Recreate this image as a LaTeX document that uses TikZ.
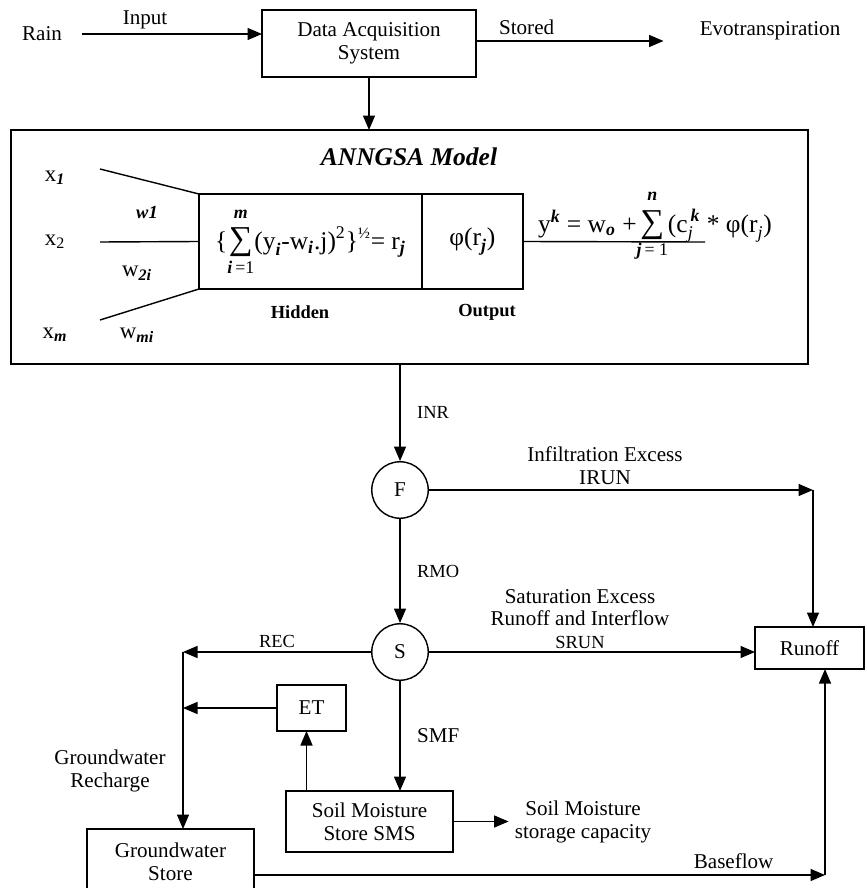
\documentclass[tikz,border=0pt]{standalone}
\usepackage{amsmath,amssymb}
\usepackage{fontspec}
\setmainfont{Liberation Serif}
\usetikzlibrary{arrows.meta, positioning, calc}

\newcommand{\bisub}[1]{\text{\bfseries\itshape #1}}
\newcommand{\tsum}{\mathop{\text{\fontsize{19}{19}\selectfont ∑}}\limits}
\newcommand{\uplim}[1]{\raisebox{2.5pt}{$\scriptstyle #1$}}

\begin{document}
\begin{tikzpicture}[
    x=0.02cm, y=-0.02cm,
    font=\fontsize{12}{13}\selectfont,
    box/.style={draw, line width=0.8pt, align=center, inner sep=0pt, outer sep=0pt},
    circ/.style={draw, circle, line width=0.8pt, minimum size=1.13cm, inner sep=0pt},
    arrow/.style={-{Triangle[length=2.9mm, width=2.4mm]}, line width=0.8pt},
    wire/.style={line width=0.8pt},
    small/.style={font=\fontsize{10.5}{12}\selectfont},
    tag/.style={font=\fontsize{10.5}{12}\selectfont\bfseries},
    inp/.style={font=\fontsize{13}{14}\selectfont},
    formula/.style={font=\fontsize{14.5}{16}\selectfont}
]
\clip (0,0) rectangle (866,888);

% data acquisition
\node[box, minimum width=4.28cm, minimum height=1.34cm] (das) at (369,43.5) {Data Acquisition\\System};
\node (rain) at (42,34) {Rain};
\node (evo) at (770,31) {Evotranspiration};
\draw[arrow] ([xshift=0.28cm]rain.east) -- (rain -| das.west) node[pos=0.35, above=-1pt] {Input};
\draw[arrow] ([yshift=0.05cm]das.east) -- ([yshift=0.05cm, xshift=-0.6cm]das.east -| evo.west) node[pos=0.27, above=0pt] {Stored};

% ANNGSA model
\node[box, minimum width=15.94cm, minimum height=4.68cm] (model) at (409.5,247) {};
\draw[arrow] (das.south) -- (das.south |- model.north);
\node[font=\fontsize{14.5}{16}\selectfont\bfseries\itshape] (title) at (409,157) {ANNGSA Model};

\node[box, formula, minimum width=4.46cm, minimum height=1.9cm] (hidden) at (310.5,241.5)
    {$\text{\{}\!\tsum_{\bisub{i}\,\text{=1}}^{\uplim{\bisub{m}}}\!\text{(y}_{\bisub{i}}\text{-w}_{\bisub{i}}\text{.j)}^{\text{2}}\text{\}}^{\text{\fontsize{9}{9}\selectfont ½}}\text{= r}_{\bisub{j}}$};
\node[box, formula, minimum width=2.02cm, minimum height=1.9cm, right=0pt of hidden] (output)
    {$\text{φ(r}_{\bisub{j}}\text{)}$};
\node[tag] (hidlbl) at (300,312) {Hidden};
\node[tag] (outlbl) at (487,312) {Output};

\node[inp] (x1) at (55,178) {x\textsubscript{\bfseries\itshape 1}};
\node[inp] (x2) at (55,242) {x\textsubscript{2}};
\node[inp] (xm) at (55,335) {x\textsubscript{\bfseries\itshape m}};
\node[font=\fontsize{10.5}{12}\selectfont\bfseries\itshape] (w1) at (147,213) {w1};
\node[inp] (w2) at (137,273) {w\textsubscript{\bfseries\itshape 2i}};
\node[inp] (wm) at (137,335) {w\textsubscript{\bfseries\itshape mi}};
\coordinate (in1) at (100,169);
\coordinate (in2) at (100,242);
\coordinate (in3) at (100,320);
\draw[wire] (in1) -- (hidden.north west);
\draw[wire] (in2) -- (hidden.west);
\draw[wire] (in3) -- (hidden.south west);

\coordinate (yend) at (705,242);
\draw[wire] (output.east) -- (yend);
\node[formula] (yk) at (655,226)
    {$\text{y}^{\bisub{k}}\text{ = w}_{\bisub{o}}\text{ +}\!\tsum_{\bisub{j}\,\text{= 1}}^{\uplim{\bisub{n}}}\!\text{(c}_{\textit{j}}^{\,\bisub{k}}\text{ * φ(r}_{\textit{j}}\text{)}$};

% runoff routing
\node[circ] (F) at (400,490) {F};
\node[circ] (S) at (400,652) {S};
\node[box, minimum width=2.18cm, minimum height=0.84cm] (runoff) at (809.5,648) {Runoff};
\node[box, minimum width=1.38cm, minimum height=0.92cm] (et) at (311.5,708) {ET};
\node[box, minimum width=3.34cm, minimum height=1.22cm] (sms) at (369.5,821.5) {Soil Moisture\\Store SMS};
\node[box, minimum width=3.34cm, minimum height=1.32cm] (gw) at (170.5,862) {Groundwater\\Store};
\node[align=center] (cap) at (583,822) {Soil Moisture\\storage capacity};

\draw[arrow] (model.south -| F) -- (F) node[midway, right=6pt, small] {INR};
\coordinate (fr) at (813,490);
\draw[arrow] (F) -- (fr);
\draw[arrow] (fr) -- (fr |- runoff.north);
\node[align=center] (irun) at (605,466) {Infiltration Excess\\IRUN};

\draw[arrow] (F) -- (S) node[midway, right=6pt, small] {RMO};
\draw[arrow] (S) -- (S -| runoff.west);
\node[align=center] (srun) at (580,619) {Saturation Excess\\Runoff and Interflow\\{\fontsize{10.5}{12}\selectfont SRUN}};

\coordinate (rec) at (183,652);
\draw[arrow] (S) -- (rec) node[pos=0.5, above=-1pt, small] {REC};
\draw[arrow] (rec) -- (rec |- gw.north);
\node[align=center] (gwrec) at (110,771) {Groundwater\\Recharge};

\draw[arrow] (et) -- (et -| rec);
\draw[arrow] ([xshift=-0.1cm]sms.north -| et) -- ([xshift=-0.1cm]et.south);
\draw[arrow] (S) -- (S |- sms.north) node[midway, right=6pt] {SMF};
\draw[arrow] (sms) -- (sms -| cap.west);

\coordinate (bf) at (825,875);
\draw[arrow] (gw.east |- bf) -- (bf) node[pos=0.84, above=0pt] {Baseflow};
\draw[arrow] (bf) -- (bf |- runoff.south);

\end{tikzpicture}
\end{document}
